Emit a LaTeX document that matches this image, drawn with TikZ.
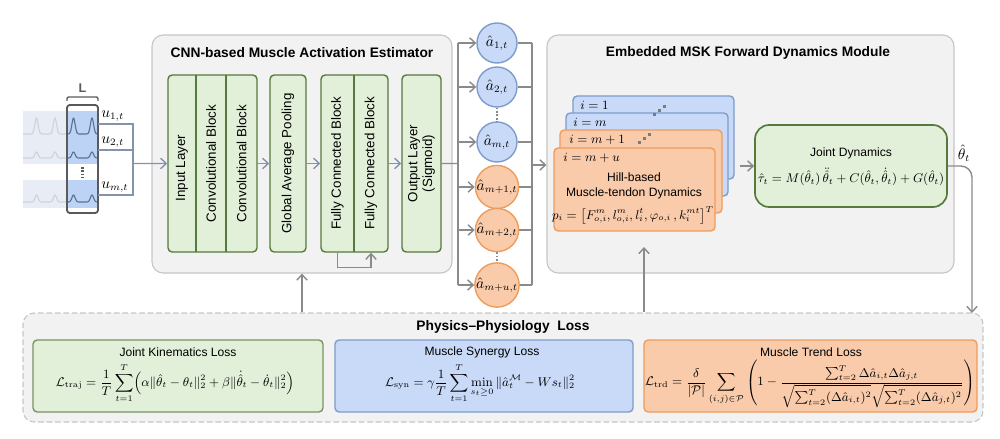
\documentclass[tikz,border=0pt]{standalone}
\usepackage{amsmath,amssymb}
\usepackage[no-math]{fontspec}
\setmainfont{Liberation Sans}
\usetikzlibrary{arrows.meta, positioning, calc, fit}

\definecolor{panel}    {HTML}{F2F2F2}
\definecolor{panelrule}{HTML}{C6C6C6}
\definecolor{leaf}     {HTML}{E2F0D9}
\definecolor{leafrule} {HTML}{56793C}
\definecolor{sky}      {HTML}{C9DAF8}
\definecolor{skyrule}  {HTML}{7D9CCB}
\definecolor{peach}    {HTML}{F9CBAA}
\definecolor{peachrule}{HTML}{EE9C5C}
\definecolor{wire}     {HTML}{8A8A8A}
\definecolor{wireb}    {HTML}{8393AC}
\definecolor{fade}     {HTML}{E8EDF5}
\definecolor{fadeline} {HTML}{CBD3DF}
\definecolor{win}      {HTML}{BDD3F6}
\definecolor{winline}  {HTML}{5D7090}
\definecolor{frame}    {HTML}{5A5A5A}

\begin{document}
\begin{tikzpicture}[
  x=0.025cm, y=-0.025cm,
  panel/.style ={draw=panelrule, fill=panel, line width=0.8pt, rounded corners=8pt, inner sep=0pt},
  head/.style  ={font=\fontsize{9.8}{11}\selectfont\bfseries},
  block/.style ={draw=leafrule, fill=leaf, line width=1pt, rounded corners=3pt, inner sep=0pt},
  blocktxt/.style={rotate=90, font=\fontsize{9.5}{10.5}\selectfont, align=center},
  act/.style   ={circle, minimum size=1cm, inner sep=0pt, line width=1pt, font=\fontsize{10.5}{11}\selectfont},
  actm/.style  ={act, draw=skyrule, fill=sky},
  actu/.style  ={act, draw=peachrule, fill=peach},
  card/.style  ={rounded corners=3pt, line width=1pt, inner sep=0pt},
  cardm/.style ={card, draw=skyrule, fill=sky},
  cardu/.style ={card, draw=peachrule, fill=peach},
  txt/.style   ={font=\fontsize{8.6}{10.6}\selectfont, align=center},
  mth/.style   ={font=\fontsize{9}{10}\selectfont, inner sep=0pt},
  mthl/.style  ={font=\fontsize{10.5}{11}\selectfont, inner sep=0pt},
  wire/.style  ={draw=wire, line width=1pt},
  arr/.style   ={-{Straight Barb[length=1.4mm, width=2.6mm]}},
  vdots/.style ={draw=wire, line width=2pt, dash pattern=on 1.2pt off 1.2pt},
]
  \useasboundingbox (0,0) rectangle (1000,439);

  % --- input window -----------------------------------------------
  \fill[fade] (23,111) rectangle (67,164);
  \fill[fade] (23,180) rectangle (67,208);
  \fill[win]  (67,111) rectangle (97,164);
  \fill[win]  (67,180) rectangle (97,208);
  \draw[fadeline, line width=0.8pt] plot[domain=23:67, samples=70, smooth]
    (\x, {134-16*exp(-(mod(\x+176.25,18.5)-9.25)^2/5)});
  \draw[winline, line width=0.8pt] plot[domain=67:97, samples=50, smooth]
    (\x, {134-16*exp(-(mod(\x+176.25,18.5)-9.25)^2/5)});
  \draw[fadeline, line width=0.8pt] plot[domain=23:67, samples=70, smooth]
    (\x, {158-6*exp(-(mod(\x+176.25,18.5)-9.25)^2/5)});
  \draw[winline, line width=0.8pt] plot[domain=67:97, samples=50, smooth]
    (\x, {158-6*exp(-(mod(\x+176.25,18.5)-9.25)^2/5)});
  \draw[fadeline, line width=0.8pt] plot[domain=23:67, samples=70, smooth]
    (\x, {202-7*exp(-(mod(\x+176.25,18.5)-9.25)^2/5)});
  \draw[winline, line width=0.8pt] plot[domain=67:97, samples=50, smooth]
    (\x, {202-7*exp(-(mod(\x+176.25,18.5)-9.25)^2/5)});
  \node[draw=frame, line width=1.3pt, rounded corners=2pt, inner sep=0pt,
        fit={(67,105) (98,213)}] (window) {};
  \draw[frame, line width=1pt, rounded corners=1pt] (67,101) -- (67,97) -- (98,97) -- (98,101);
  \node[font=\fontsize{9}{10}\selectfont\bfseries, text=frame] (winlen) at (82.5,88) {L};
  \draw[vdots, draw=frame] (82.5,167) -- (82.5,178);

  \node[mthl, anchor=west] (u1) at (101,116) {$u_{1,t}$};
  \node[mthl, anchor=west] (u2) at (101,142) {$u_{2,t}$};
  \node[mthl, anchor=west] (um) at (101,187) {$u_{m,t}$};
  \coordinate (s1) at (98,124);
  \coordinate (s2) at (98,150);
  \coordinate (s3) at (98,195);
  \coordinate (ubus) at (133,163.5);
  \foreach \s in {s1,s2,s3}
    \draw[wireb, line width=1pt] (\s) -| (ubus);

  % --- CNN-based estimator ------------------------------------------
  \node[panel, fit={(152,35) (452,273)}] (cnn) {};
  \node[head] (cnnhead) at (302,53) {CNN-based Muscle Activation Estimator};

  \node[block, fit={(168,75) (257,252)}] (grp1) {};
  \draw[leafrule, line width=1pt] (196,75) -- (196,252) (226,75) -- (226,252);
  \node[blocktxt] (inl) at (182,168)   {Input Layer};
  \node[blocktxt] (cv1) at (211,163.5) {Convolutional Block};
  \node[blocktxt] (cv2) at (241.5,163.5) {Convolutional Block};

  \node[block, fit={(270,75) (306,252)}] (grp2) {};
  \node[blocktxt] (gap) at (grp2.center) {Global Average Pooling};

  \node[block, fit={(321,75) (388,252)}] (grp3) {};
  \draw[leafrule, line width=1pt] (354,75) -- (354,252);
  \node[blocktxt] (fc1) at (337.5,163.5) {Fully Connected Block};
  \node[blocktxt] (fc2) at (371,163.5)   {Fully Connected Block};

  \node[block, fit={(402,75) (441,252)}] (grp4) {};
  \node[blocktxt] (outl) at (grp4.center) {Output Layer\\(Sigmoid)};

  \draw[wireb, line width=1pt, arr] (ubus) -- (grp1.west);
  \draw[wireb, line width=1pt, arr] (grp1.east) -- (grp2.west);
  \draw[wireb, line width=1pt, arr] (grp2.east) -- (grp3.west);
  \draw[wireb, line width=1pt, arr] (grp3.east) -- (grp4.west);
  \draw[wire, arr] (fc1 |- grp3.south) -- ++(0,15) -| (fc2 |- grp3.south);

  % --- estimated activations ----------------------------------------
  \coordinate (abus) at (458,163.5);
  \coordinate (rbus) at (532,165);
  \draw[wire] (grp4.east) -- (abus);
  \foreach \n/\y/\sty/\lab in {a1/43/actm/{1,t}, a2/87/actm/{2,t}, am/142/actm/{m,t},
                                ap1/187/actu/{m+1,t}, ap2/230/actu/{m+2,t}, apu/285/actu/{m+u,t}}
    \node[\sty] (\n) at (497,\y) {$\hat{a}_{\lab}$};
  \draw[vdots] (a2.south) -- (am.north);
  \draw[vdots] (ap2.south) -- (apu.north);
  \draw[wire] (abus |- a1) -- (abus |- apu);
  \draw[wire] (rbus |- a1) -- (rbus |- apu);
  \foreach \n in {a1,a2,am,ap1,ap2,apu} {
    \draw[wire, arr] (abus |- \n) -- (\n.west);
    \draw[wire] (\n.east) -- (rbus |- \n);
  }

  % --- embedded MSK forward dynamics --------------------------------
  \node[panel, fit={(547,35) (954,273)}] (msk) {};
  \node[head] (mskhead) at (748,53) {Embedded MSK Forward Dynamics Module};
  \draw[wire, arr] (rbus) -- (msk.west |- rbus);

  \node[cardm, fit={(573,96) (734,179)}]  (h1) {};
  \node[cardm, fit={(566,113) (728,196)}] (h2) {};
  \node[cardu, fit={(560,130) (722,213)}] (h3) {};
  \node[cardu, fit={(554,148) (715,231)}] (h4) {};
  \node[mth, anchor=west] (h1lab) at (580,105) {$i=1$};
  \node[mth, anchor=west] (h2lab) at (573,122) {$i=m$};
  \node[mth, anchor=west] (h3lab) at (569,140) {$i=m+1$};
  \node[mth, anchor=west] (h4lab) at (563,158) {$i=m+u$};
  \foreach \k in {0,1,2} {
    \fill[frame!80] (653+5*\k,116-4*\k) rectangle ++(3,-3);
    \fill[frame!80] (638+5*\k,144-4*\k) rectangle ++(3,-3);
  }
  \node[txt] (hill) at (634,185.5) {Hill-based\\Muscle-tendon Dynamics};
  \node[mth] (hillp) at (633,215)
    {$p_i=\bigl[F^{m}_{o,i},l^{m}_{o,i},l^{t}_{i},\varphi_{o,i}\,,k^{mt}_{i}\bigr]^{T}$};

  \node[block, rounded corners=10pt, line width=1.2pt, fit={(755,125) (947,207)}] (joint) {};
  \node[txt] (jointhead) at (851,153) {Joint Dynamics};
  \node[mth] (jointeq) at (851,177)
    {$\hat{\tau}_t=M(\hat{\theta}_t)\,\ddot{\hat{\theta}}_t+C(\hat{\theta}_t,\dot{\hat{\theta}}_t)+G(\hat{\theta}_t)$};
  \draw[wire, arr, shorten <=3.5pt] (h1.east |- joint.west) -- (joint.west);

  % --- physics-physiology loss --------------------------------------
  \node[panel, dash pattern=on 4pt off 2pt, fit={(23,313) (983,422)}] (loss) {};
  \node[head] (losshead) at (503,327) {Physics--Physiology\ \ Loss};

  \node[block, draw=leafrule!80, fit={(33,340) (323,412)}] (lk) {};
  \node[txt] (lkhead) at (178,352) {Joint Kinematics Loss};
  \node[mth] (lkeq) at (175,383)
    {$\displaystyle\mathcal{L}_{\mathrm{traj}}=\frac{1}{T}\sum_{t=1}^{T}\Bigl(\alpha\|\hat{\theta}_t-\theta_t\|_2^2+\beta\|\dot{\hat{\theta}}_t-\dot{\theta}_t\|_2^2\Bigr)$};

  \node[block, draw=skyrule, fill=sky, fit={(335,340) (633,412)}] (ls) {};
  \node[txt] (lshead) at (482,352) {Muscle Synergy Loss};
  \node[mth] (lseq) at (480,383)
    {$\displaystyle\mathcal{L}_{\mathrm{syn}}=\gamma\frac{1}{T}\sum_{t=1}^{T}\min_{s_t\geq0}\|\hat{a}_t^{\mathcal{M}}-Ws_t\|_2^2$};

  \node[block, draw=peachrule, fill=peach, fit={(644,340) (977,412)}] (lt) {};
  \node[txt] (lthead) at (811,352) {Muscle Trend Loss};
  \node[mth] (lteq) at (810,384)
    {$\displaystyle\mathcal{L}_{\mathrm{trd}}=\frac{\delta}{|\mathcal{P}|}\sum_{(i,j)\in\mathcal{P}}\left(1-\frac{\sum_{t=2}^{T}\Delta\hat{a}_{i,t}\Delta\hat{a}_{j,t}}{\sqrt{\sum_{t=2}^{T}(\Delta\hat{a}_{i,t})^2}\sqrt{\sum_{t=2}^{T}(\Delta\hat{a}_{j,t})^2}}\right)$};

  % --- feedback wiring ------------------------------------------------
  \coordinate (thin) at (972,313);
  \coordinate (hillin) at (644,247);
  \node[mthl] (thout) at (964,153) {$\hat{\theta}_t$};
  \draw[wire, arr, rounded corners=8pt] (joint.east) -| (thin);
  \draw[wire, arr] (cnn.south |- loss.north) -- (cnn.south);
  \draw[wire, arr] (hillin |- loss.north) -- (hillin);
\end{tikzpicture}
\end{document}
